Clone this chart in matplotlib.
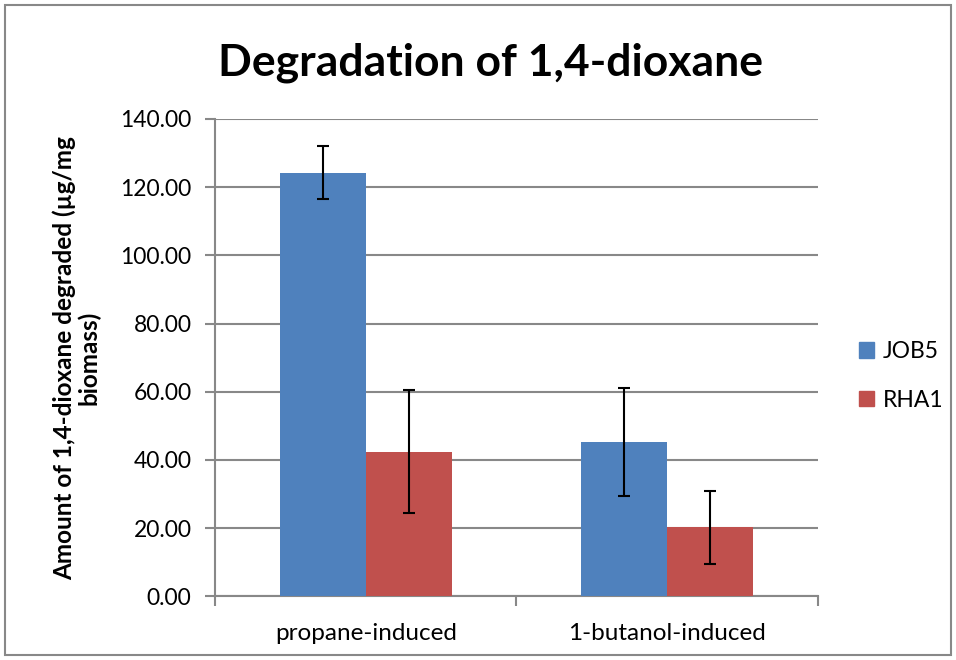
# Degradation of 1,4-dioxane - grouped bars with error bars

import numpy as np
import matplotlib
matplotlib.use("Agg")
import matplotlib.pyplot as plt
from matplotlib.patches import Rectangle, Patch

categorias = ["propane-induced", "1-butanol-induced"]
series = ["JOB5", "RHA1"]
job5 = [124.3, 45.2]
job5_err = [7.8, 15.8]
rha1 = [42.4, 20.2]
rha1_err = [18.1, 10.7]
yticks = [0, 20, 40, 60, 80, 100, 120, 140]

cores = ["#4F81BD", "#C0504D"]
cinza = "#888888"
fonte = ["Lato", "DejaVu Sans"]

plt.rcParams["font.family"] = fonte

fig = plt.figure(figsize=(9.56, 6.6), dpi=100)
ax = fig.add_axes([0.2249, 0.0965, 0.6307, 0.7232])

x = np.arange(len(categorias))
largura = 0.285
erro_kw = dict(ecolor="black", elinewidth=1.5, capsize=4.5, capthick=1.5)

ax.bar(x - largura / 2, job5, largura, yerr=job5_err, color=cores[0], error_kw=erro_kw, zorder=3)
ax.bar(x + largura / 2, rha1, largura, yerr=rha1_err, color=cores[1], error_kw=erro_kw, zorder=3)

ax.set_xlim(-0.5, len(categorias) - 0.5)
ax.set_ylim(0, 140)
ax.set_yticks(yticks)
ax.set_yticklabels([f"{v:.2f}" for v in yticks], fontsize=16.5)
ax.yaxis.grid(True, color=cinza, linewidth=1.5, zorder=0)
ax.set_axisbelow(True)

# ticks de categoria nas bordas, rótulos centralizados
ax.set_xticks(np.arange(len(categorias) + 1) - 0.5)
ax.set_xticklabels([])
ax.set_xticks(x, minor=True)
ax.set_xticklabels(categorias, minor=True, fontsize=17.5)
ax.tick_params(axis="x", which="minor", length=0, pad=19)
ax.tick_params(axis="x", which="major", length=7, width=1.5, color=cinza)
ax.tick_params(axis="y", length=7, width=1.5, color=cinza, pad=10)

for lado in ["top", "right"]:
    ax.spines[lado].set_visible(False)
for lado in ["left", "bottom"]:
    ax.spines[lado].set_color(cinza)
    ax.spines[lado].set_linewidth(1.5)

ax.set_ylabel("Amount of 1,4-dioxane degraded (µg/mg\nbiomass)", fontsize=17.5,
              fontweight="bold", labelpad=14, linespacing=1.05)

fig.text(0.513, 0.905, "Degradation of 1,4-dioxane", ha="center", va="center",
         fontsize=32, fontweight="bold")

handles = [Patch(color=c) for c in cores]
ax.legend(handles, series, loc="center left", bbox_to_anchor=(1.068, 0.462),
          frameon=False, fontsize=16.5, handlelength=0.65, handleheight=0.65,
          handletextpad=0.4, labelspacing=1.2, borderpad=0, borderaxespad=0)

# borda da área do gráfico
fig.patches.append(Rectangle((0.005, 0.007), 0.99, 0.985, transform=fig.transFigure,
                             fill=False, edgecolor=cinza, linewidth=1.5))

fig.savefig("out.png", dpi=100)
